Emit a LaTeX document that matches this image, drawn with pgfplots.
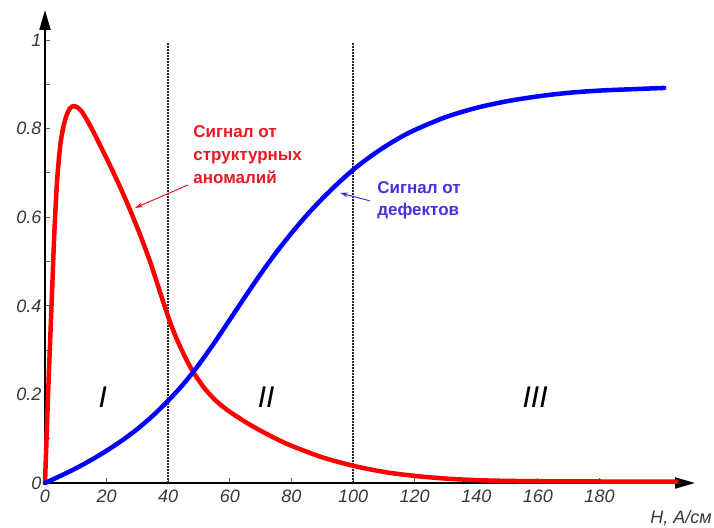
\documentclass[border=0pt]{standalone}
\usepackage{pgfplots}
\pgfplotsset{compat=1.18}
\usetikzlibrary{arrows.meta}
\usepackage{fontspec}
\setmainfont{Liberation Sans}
\definecolor{redc}{RGB}{255,0,0}
\definecolor{bluec}{RGB}{0,0,255}
\definecolor{redtxt}{RGB}{235,25,35}
\definecolor{bluetxt}{RGB}{70,50,220}
\definecolor{ticklab}{RGB}{55,55,55}
\begin{document}
\begin{tikzpicture}
\useasboundingbox (-45pt,-44pt) rectangle (669pt,483pt);
\begin{axis}[
  at={(0pt,0pt)}, anchor=south west,
  scale only axis, width=650pt, height=473pt,
  xmin=0, xmax=211, ymin=0, ymax=1.068,
  axis lines=left,
  axis line style={line width=2pt, black, -{Triangle[length=20pt,width=11pt]}},
  xtick={0,20,...,180},
  xticklabels={0,20,40,60,80,100,120,140,160,180},
  ytick={0,0.2,0.4,0.6,0.8,1},
  yticklabels={0,0.2,0.4,0.6,0.8,1},
  minor ytick={0.1,0.3,0.5,0.7,0.9},
  tick align=inside,
  major tick length=5pt, minor tick length=5pt,
  tick style={black!65, line width=1pt},
  ticklabel style={font=\fontsize{18}{20}\selectfont\itshape, text=ticklab},
  xticklabel style={yshift=-3pt},
  clip=false,
]
\addplot[black!85, line width=1.8pt, dash pattern=on 1.6pt off 1.4pt] coordinates {(40,0)(40,0.995)};
\addplot[black!85, line width=1.8pt, dash pattern=on 1.6pt off 1.4pt] coordinates {(100,0)(100,0.995)};
\addplot[redc, line width=4.5pt, smooth, line cap=round] coordinates {
(0,0)(0.5,0.1)(1,0.2)(1.5,0.29)(2,0.38)(2.5,0.47)(3,0.56)(3.5,0.63)(4,0.69)
(5,0.765)(6,0.805)(7,0.83)(8,0.845)(9.2,0.851)(10.5,0.848)(12,0.838)(14,0.815)
(16,0.789)(18,0.761)(20,0.733)(22,0.704)(24,0.674)(26,0.643)(28,0.610)(30,0.576)
(32,0.540)(34,0.502)(36,0.460)(38,0.417)(40,0.375)(42,0.338)(44,0.306)(46,0.277)
(48,0.252)(50,0.231)(52,0.212)(55,0.189)(58,0.171)(61,0.156)(65,0.138)(70,0.118)
(75,0.100)(80,0.084)(90,0.058)(100,0.039)(110,0.025)(120,0.016)(130,0.010)
(140,0.0065)(150,0.0048)(165,0.0038)(185,0.0033)(205,0.003)};
\addplot[bluec, line width=4.5pt, smooth, line cap=round] coordinates {
(0,0)(5,0.016)(10,0.033)(15,0.052)(20,0.073)(25,0.096)(30,0.122)(35,0.152)
(40,0.186)(45,0.224)(50,0.268)(55,0.317)(60,0.369)(65,0.421)(70,0.472)(75,0.520)
(80,0.564)(85,0.605)(90,0.642)(95,0.676)(100,0.707)(105,0.734)(110,0.758)
(115,0.779)(120,0.797)(130,0.826)(140,0.847)(150,0.862)(160,0.873)(170,0.881)
(180,0.886)(190,0.889)(201,0.892)};
\draw[redtxt, line width=1pt, -{Stealth[length=8pt,width=5pt]}] (axis cs:46.4,0.673) -- (axis cs:29.2,0.621);
\draw[bluetxt, line width=1pt, -{Stealth[length=8pt,width=5pt]}] (axis cs:105.5,0.637) -- (axis cs:95.8,0.655);
\node[anchor=north west, inner sep=0pt, align=left, text=redtxt, font=\fontsize{17}{23}\selectfont\bfseries] at (axis cs:48.1,0.808) {Сигнал от\\структурных\\аномалий};
\node[anchor=north west, inner sep=0pt, align=left, text=bluetxt, font=\fontsize{17}{22.5}\selectfont\bfseries] at (axis cs:107.8,0.682) {Сигнал от\\дефектов};
\node[font=\fontsize{30}{30}\selectfont\itshape] at (axis cs:18.8,0.194) {I};
\node[font=\fontsize{30}{30}\selectfont\itshape] at (axis cs:71.8,0.194) {II};
\node[font=\fontsize{30}{30}\selectfont\itshape] at (axis cs:159.1,0.194) {III};
\end{axis}
\node[anchor=east, inner sep=0pt, text=ticklab, font=\fontsize{18}{20}\selectfont\itshape] at (667pt,-35pt) {H, A/см};
\end{tikzpicture}
\end{document}
